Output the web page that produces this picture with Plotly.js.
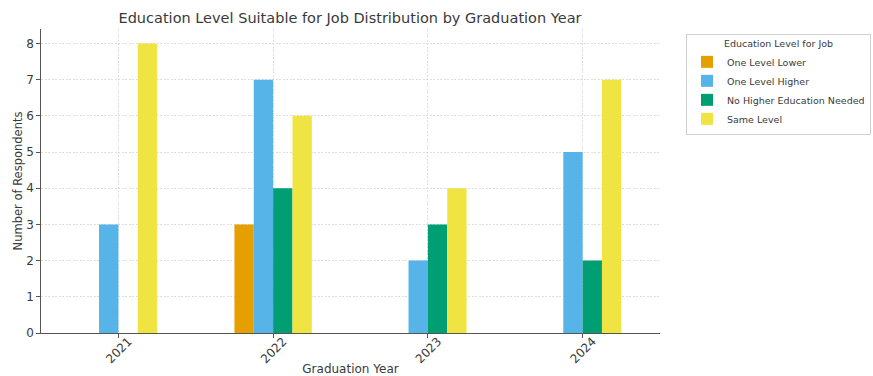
<!DOCTYPE html>
<html>
<head>
<meta charset="utf-8">
<script src="https://cdn.plot.ly/plotly-3.0.1.min.js"></script>
<style>html,body{margin:0;padding:0;background:#fff;}#chart{width:873px;height:376px;}</style>
</head>
<body>
<div id="chart"></div>
<script>
const years = ['2021', '2022', '2023', '2024'];
const oneLevelLower = [0, 3, 0, 0];
const oneLevelHigher = [3, 7, 2, 5];
const noHigherEducationNeeded = [0, 4, 3, 2];
const sameLevel = [8, 6, 4, 7];
const seriesNames = ['One Level Lower', 'One Level Higher', 'No Higher Education Needed', 'Same Level'];
const seriesColors = ['#E69F00', '#56B4E9', '#009E73', '#F0E442'];
const seriesValues = [oneLevelLower, oneLevelHigher, noHigherEducationNeeded, sameLevel];

const traces = seriesValues.map((vals, i) => ({
  type: 'bar',
  name: seriesNames[i],
  x: years,
  y: vals,
  marker: {color: seriesColors[i], line: {width: 0}},
  hoverinfo: 'skip'
}));

const font = 'DejaVu Sans, sans-serif';
const txt = '#3a3a3a';
const layout = {
  width: 873, height: 376,
  margin: {l: 41, r: 213, t: 29, b: 43, autoexpand: false},
  paper_bgcolor: '#fff', plot_bgcolor: '#fff',
  barmode: 'group', bargap: 0.5, bargroupgap: 0,
  font: {family: font, size: 12, color: txt},
  title: {text: 'Education Level Suitable for Job Distribution by Graduation Year',
          font: {family: font, size: 14.5, color: txt},
          x: 350 / 873, xanchor: 'center', y: 0.952, yanchor: 'middle'},
  xaxis: {
    type: 'category', range: [-0.5, 3.5],
    showline: true, linecolor: '#555', linewidth: 1.2, mirror: false,
    ticks: 'outside', ticklen: 3.5, tickcolor: '#555', tickwidth: 1,
    tickangle: -45, tickfont: {family: font, size: 12, color: txt},
    ticklabelshift: 10, ticklabelstandoff: -8,
    showgrid: true, gridcolor: '#d6d6d6', griddash: '2px,1.5px', gridwidth: 0.8,
    zeroline: false, automargin: false,
    title: {text: 'Graduation Year', font: {family: font, size: 12, color: txt}, standoff: 2}
  },
  yaxis: {
    range: [0, 8.4], dtick: 1,
    showline: true, linecolor: '#555', linewidth: 1.2,
    ticks: 'outside', ticklen: 3.5, tickcolor: '#555', tickwidth: 1,
    tickfont: {family: font, size: 12, color: txt},
    showgrid: true, gridcolor: '#d6d6d6', griddash: '2px,1.5px', gridwidth: 0.8,
    zeroline: false, automargin: false,
    title: {text: 'Number of Respondents', font: {family: font, size: 11.5, color: txt}, standoff: 1}
  },
  showlegend: true,
  legend: {
    x: (686 - 41) / 619, xanchor: 'left', y: (333 - 34) / 304, yanchor: 'top',
    bgcolor: '#fff', bordercolor: '#d0d0d0', borderwidth: 1,
    font: {family: font, size: 9.5, color: txt},
    title: {text: 'Education Level for Job', side: 'top center', font: {family: font, size: 9.5, color: txt}},
    tracegroupgap: 0, itemwidth: 30
  }
};

Plotly.newPlot('chart', traces, layout, {displayModeBar: false, staticPlot: true});
</script>
</body>
</html>
